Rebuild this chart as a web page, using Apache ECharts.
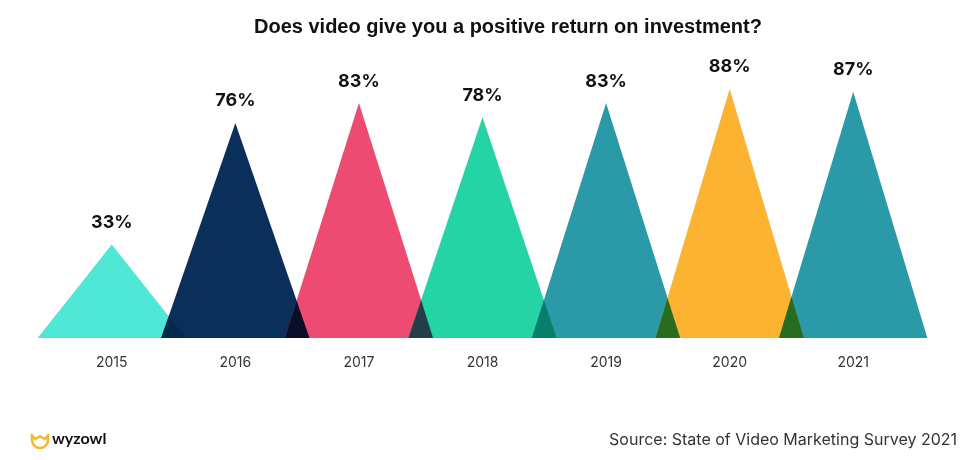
<!DOCTYPE html>
<html>
<head>
<meta charset="utf-8">
<script src="https://cdn.jsdelivr.net/npm/echarts@6/dist/echarts.min.js"></script>
<style>
html,body{margin:0;padding:0;background:#fff;}
#chart{width:979px;height:460px;}
</style>
</head>
<body>
<div id="chart"></div>
<script>
const years = ['2015','2016','2017','2018','2019','2020','2021'];
const values = [33, 76, 83, 78, 83, 88, 87];
const colors = ['#4fe8d6','#0b2f5b','#ee4b72','#25d4a4','#2a9aa8','#fbb331','#2a9aa8'];
const titleText = 'Does video give you a positive return on investment?';
const sourceText = 'Source: State of Video Marketing Survey 2021';
const brandText = 'wyzowl';

function multiply(a, b) {
  const pa = [1, 3, 5].map(k => parseInt(a.substr(k, 2), 16));
  const pb = [1, 3, 5].map(k => parseInt(b.substr(k, 2), 16));
  return 'rgb(' + pa.map((v, k) => Math.round(v * pb[k] / 255)).join(',') + ')';
}

const HALF = 0.6; // half base width as a fraction of category width

const chart = echarts.init(document.getElementById('chart'));
chart.setOption({
  backgroundColor: '#ffffff',
  animation: false,
  title: {
    text: titleText,
    left: 249,
    top: 12,
    textStyle: {fontFamily: 'Liberation Sans', fontWeight: 'bold', fontSize: 20, color: '#111'}
  },
  grid: {left: 50, right: 64, top: 55, bottom: 122},
  xAxis: {
    type: 'category',
    data: years,
    axisLine: {show: false},
    axisTick: {show: false},
    axisLabel: {margin: 18, fontFamily: 'Inter', fontSize: 14, color: '#333'}
  },
  yAxis: {type: 'value', min: 0, max: 100, show: false},
  series: [{
    type: 'custom',
    z: 2,
    data: values.map((v, i) => [i, v]),
    renderItem: function (params, api) {
      const i = api.value(0);
      const v = api.value(1);
      const top = api.coord([i, v]);
      const base = api.coord([i, 0]);
      const hw = api.size([1, 0])[0] * HALF;
      return {
        type: 'group',
        children: [{
          type: 'polygon',
          shape: {points: [[base[0] - hw, base[1]], [top[0], top[1]], [base[0] + hw, base[1]]]},
          style: {fill: colors[params.dataIndex]}
        }, {
          type: 'text',
          style: {
            text: v + '%',
            x: top[0],
            y: top[1] - 13,
            textAlign: 'center',
            textVerticalAlign: 'bottom',
            fontFamily: 'Inter',
            fontWeight: 'bold',
            fontSize: 18,
            fill: '#111'
          }
        }]
      };
    }
  }, {
    type: 'custom',
    z: 3,
    data: values.slice(0, -1).map((v, i) => [i, v, values[i + 1]]),
    renderItem: function (params, api) {
      const i = api.value(0);
      const a = api.coord([i, api.value(1)]);
      const b = api.coord([i + 1, api.value(2)]);
      const base = api.coord([i, 0]);
      const hw = api.size([1, 0])[0] * HALF;
      const Ha = base[1] - a[1];
      const Hb = base[1] - b[1];
      const d = b[0] - a[0];
      const h = (2 * hw - d) / (hw * (1 / Ha + 1 / Hb));
      const x = a[0] + hw * (1 - h / Ha);
      return {
        type: 'polygon',
        shape: {points: [[b[0] - hw, base[1]], [x, base[1] - h], [a[0] + hw, base[1]]]},
        style: {fill: multiply(colors[i], colors[i + 1])}
      };
    }
  }],
  graphic: [{
    type: 'text',
    right: 22,
    top: 432,
    style: {text: sourceText, fontFamily: 'Inter', fontSize: 16, fill: '#333'}
  }, {
    type: 'polyline',
    shape: {points: [[31, 434], [35, 439], [40, 436.5], [45, 439], [49, 434]]},
    style: {fill: null, stroke: '#f4b82c', lineWidth: 2.5}
  }, {
    type: 'arc',
    shape: {cx: 40, cy: 440, r: 8, startAngle: 0, endAngle: Math.PI},
    style: {fill: null, stroke: '#f4b82c', lineWidth: 2.5}
  }, {
    type: 'line',
    shape: {x1: 32, y1: 436, x2: 32, y2: 440},
    style: {stroke: '#f4b82c', lineWidth: 2.5}
  }, {
    type: 'line',
    shape: {x1: 48, y1: 436, x2: 48, y2: 440},
    style: {stroke: '#f4b82c', lineWidth: 2.5}
  }, {
    type: 'text',
    left: 52,
    top: 431,
    style: {text: brandText, fontFamily: 'Lato', fontWeight: 'bold', fontSize: 16, fill: '#111'}
  }]
});
</script>
</body>
</html>
